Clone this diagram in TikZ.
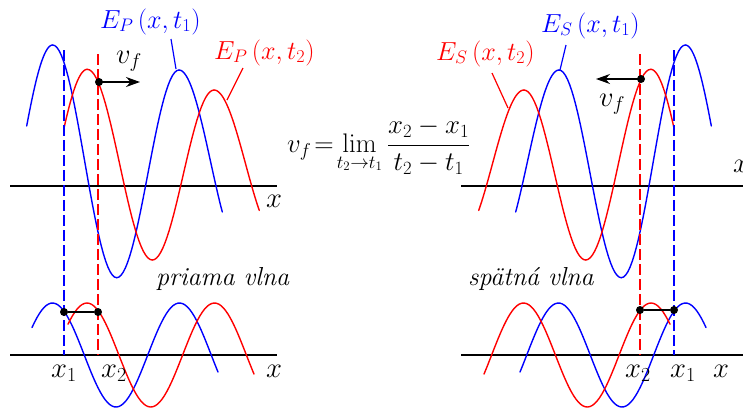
\documentclass[tikz,border=0pt]{standalone}
\usepackage{amsmath}
\usetikzlibrary{arrows.meta}
\tikzset{
 wave/.style={line width=1.4pt, line cap=round, line join=round},
 bw/.style={wave, blue},
 rw/.style={wave, red},
 axis/.style={line width=1.2pt, black},
 vdash/.style={line width=1.3pt, dash pattern=on 11pt off 4pt},
 dot/.style={circle, fill=black, inner sep=0pt, minimum size=8pt},
 lbl/.style={inner sep=0pt, font=\fontsize{23}{28}\selectfont},
 big/.style={inner sep=0pt, font=\fontsize{26}{31}\selectfont},
 leader/.style={line width=1.2pt},
 arr/.style={line width=1.4pt, -{Stealth[length=14pt,width=10pt]}},
}
\newcommand\myenlarged[1]{\scalebox{1.15}{$#1$}}
% half-cosine from extremum (x1,y1) to extremum (x2,y2), drawn on [from,to]
\newcommand\hc[7]{\draw[#1, domain=#6:#7, samples=30] plot (\x, {((#3)+(#5))/2+((#3)-(#5))/2*cos(180/((#4)-(#2))*(\x-(#2)))});}
\newcommand\wavesblock{%
 \hc{bw}{-10.3}{267}{52.7}{45}{26.7}{52.7}
 \hc{bw}{52.7}{45}{116.7}{277.7}{52.7}{116.7}
 \hc{bw}{116.7}{277.7}{179}{70}{116.7}{179}
 \hc{bw}{179}{70}{242}{252.6}{179}{222.3}
 \hc{rw}{24.3}{264.5}{87.3}{69.3}{64.3}{87.3}
 \hc{rw}{87.3}{69.3}{152.3}{260}{87.3}{152.3}
 \hc{rw}{152.3}{260}{214}{90}{152.3}{214}
 \hc{rw}{214}{90}{277}{237.3}{214}{259.3}
 \draw[bw, domain=32:218, samples=80] plot (\x, {355-52*cos(360/127*(\x-52.5))});
 \draw[rw, domain=68:254, samples=80] plot (\x, {355-52*cos(360/127.5*(\x-87))});
 \draw[vdash, blue] (64,50) -- (64,355);
 \draw[vdash, red] (98,54) -- (98,355);
}
\begin{document}
\begin{tikzpicture}[x=1pt, y=-1pt]
\useasboundingbox (0,0) rectangle (743,408);
% axes
\draw[axis] (10,186) -- (277,186);
\draw[axis] (10,355) -- (277,355);
\draw[axis] (461,186) -- (743,186);
\draw[axis] (461,355) -- (743,355);
% waves, left and mirrored right
\begin{scope}
 \wavesblock
\end{scope}
\begin{scope}[xshift=738pt, xscale=-1]
 \wavesblock
\end{scope}
% ---- left labels
\node[lbl, blue, anchor=base west] (EP1) at (100,28) {\scalebox{1.05}{$E_P\,(x,t_1)$}};
\coordinate (EP1a) at (171,39); \coordinate (EP1b) at (176,69);
\draw[leader, blue] (EP1a) -- (EP1b);
\node[lbl, red, anchor=base west] (EP2) at (214,59) {\scalebox{1.05}{$E_P\,(x,t_2)$}};
\coordinate (EP2a) at (243,68); \coordinate (EP2b) at (227,100);
\draw[leader, red] (EP2a) -- (EP2b);
\node[big, anchor=base west] (vf1) at (116,63) {\myenlarged{v_f}};
\node[dot] (d1) at (99,82) {};
\coordinate (a1) at (140,82);
\draw[arr] (d1.center) -- (a1);
\node[dot] (d2) at (64,312) {};
\node[dot] (d3) at (98,312) {};
\draw[line width=1.4pt] (d2) -- (d3);
\node[big, anchor=base west] (xl1) at (51,377) {\myenlarged{x_1}};
\node[big, anchor=base west] (xl2) at (101,377) {\myenlarged{x_2}};
\node[big, anchor=base west] (xl3) at (266,377) {\myenlarged{x}};
\node[big, anchor=base west] (xl4) at (266,207) {\myenlarged{x}};
\node[big, anchor=base west] (pv) at (156,285) {\itshape priama vlna};
% ---- formula
\node[big, anchor=base west] (form) at (287,152) {\scalebox{1.08}{$\displaystyle v_f\!=\!\lim_{t_2\to t_1}\frac{x_2-x_1}{t_2-t_1}$}};
% ---- right labels
\node[lbl, blue, anchor=base west] (ES1) at (541,32) {\scalebox{1.05}{$E_S\,(x,t_1)$}};
\coordinate (ES1a) at (566,45); \coordinate (ES1b) at (560,70);
\draw[leader, blue] (ES1a) -- (ES1b);
\node[lbl, red, anchor=base west] (ES2) at (436,60) {\scalebox{1.05}{$E_S\,(x,t_2)$}};
\coordinate (ES2a) at (492,73); \coordinate (ES2b) at (508,108);
\draw[leader, red] (ES2a) -- (ES2b);
\node[dot] (d4) at (641,79) {};
\coordinate (a2) at (596,79);
\draw[arr] (d4.center) -- (a2);
\node[big, anchor=base west] (vf2) at (599,106) {\myenlarged{v_f}};
\node[dot] (d5) at (640,310) {};
\node[dot] (d6) at (674,310) {};
\draw[line width=1.4pt] (d5) -- (d6);
\node[big, anchor=base west] (xr2) at (625,377) {\myenlarged{x_2}};
\node[big, anchor=base west] (xr1) at (670,377) {\myenlarged{x_1}};
\node[big, anchor=base west] (xr3) at (713,377) {\myenlarged{x}};
\node[big, anchor=base west] (xr4) at (733,172) {\myenlarged{x}};
\node[big, anchor=base west] (sv) at (468,285) {\itshape spätná vlna};
\end{tikzpicture}
\end{document}
